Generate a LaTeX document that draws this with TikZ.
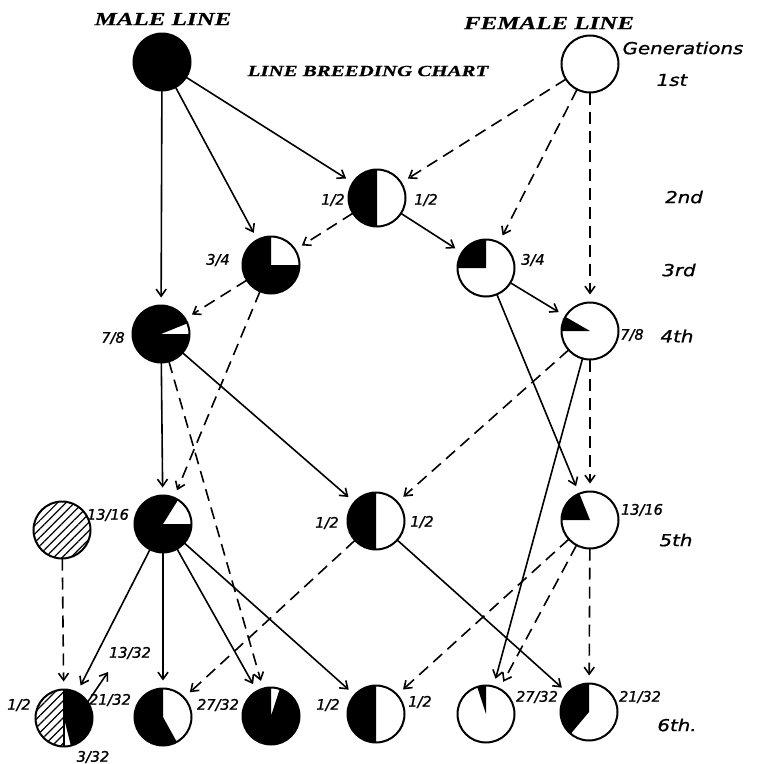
\documentclass[tikz,border=0pt]{standalone}
\usepackage{fontspec}
\usetikzlibrary{arrows.meta,patterns.meta}
\newfontfamily\titlefont[FakeStretch=1.35,FakeBold=0.6]{Liberation Serif}
\newfontfamily\lblfont[FakeStretch=1.2,FakeBold=1]{DejaVu Sans}
\newfontfamily\fracfont[FakeBold=1.2]{DejaVu Sans}
\newcommand\piewedge[4]{\fill[#4] (#1.center) -- ++(#2:28.5pt) arc[start angle=#2, end angle=#3, radius=28.5pt] -- cycle;}
\begin{document}
\begin{tikzpicture}[x=1pt,y=1pt,
  pienode/.style={circle, minimum size=57pt, inner sep=0pt, outer sep=0pt},
  rim/.style={line width=2pt},
  sol/.style={line width=1.6pt, -{Straight Barb[length=7pt,width=10pt,line width=1.6pt]}, shorten >=8pt},
  das/.style={sol, dash pattern=on 12pt off 7pt},
  title/.style={font=\titlefont\bfseries\itshape\fontsize{18.5}{20}\selectfont},
  gen/.style={font=\lblfont\itshape\fontsize{16.5}{18}\selectfont},
  frac/.style={font=\fracfont\itshape\fontsize{14.5}{16}\selectfont, inner sep=0pt}]
\useasboundingbox (0,0) rectangle (756,-764);
% nodes
\node[pienode] (m1) at (162,-62) {};
\node[pienode] (f1) at (590,-64) {};
\node[pienode] (g2) at (377,-198) {};
\node[pienode] (m3) at (271,-265) {};
\node[pienode] (f3) at (486,-268) {};
\node[pienode] (m4) at (161,-334) {};
\node[pienode] (f4) at (590,-331) {};
\node[pienode] (h5) at (62,-530) {};
\node[pienode] (m5) at (163,-524) {};
\node[pienode] (c5) at (376,-521) {};
\node[pienode] (f5) at (590,-520) {};
\node[pienode] (h6) at (64,-718) {};
\node[pienode] (a6) at (163,-717) {};
\node[pienode] (b6) at (271,-716) {};
\node[pienode] (c6) at (376,-714) {};
\node[pienode] (d6) at (486,-714) {};
\node[pienode] (e6) at (589,-712) {};
% fills
\piewedge{m1}{0}{360}{black}
\piewedge{g2}{90}{270}{black}
\piewedge{m3}{90}{360}{black}
\piewedge{f3}{90}{180}{black}
\piewedge{m4}{22}{360}{black}
\piewedge{f4}{150}{180}{black}
\fill[pattern={Lines[angle=45,distance=6pt,line width=1.2pt]}] (h5.center) circle[radius=28.5pt];
\piewedge{m5}{58}{360}{black}
\piewedge{c5}{90}{270}{black}
\piewedge{f5}{112}{180}{black}
\fill[pattern={Lines[angle=45,distance=6pt,line width=1.2pt]}] (h6.center) -- ++(90:28.5pt) arc[start angle=90,end angle=270,radius=28.5pt] -- cycle;
\piewedge{h6}{-76}{90}{black}
\draw[line width=1.2pt] (h6.center) -- ++(90:28.5pt) (h6.center) -- ++(270:28.5pt);
\piewedge{a6}{90}{299}{black}
\piewedge{b6}{90}{432}{black}
\piewedge{c6}{90}{270}{black}
\piewedge{d6}{90}{108}{black}
\piewedge{e6}{90}{230}{black}
\foreach \n in {m1,f1,g2,m3,f3,m4,f4,h5,m5,c5,f5,h6,a6,b6,c6,d6,e6}
  \draw[rim] (\n.center) circle[radius=28.5pt];
% connectors
\draw[sol] (m1) -- (g2);
\draw[sol] (m1) -- (m3);
\draw[sol] (m1) -- (m4);
\draw[das] (f1) -- (g2);
\draw[das] (f1) -- (f3);
\draw[das] (f1) -- (f4);
\draw[das] (g2) -- (m3);
\draw[sol] (g2) -- (f3);
\draw[das] (m3) -- (m4);
\draw[das] (m3) -- (m5);
\draw[sol] (f3) -- (f4);
\draw[sol] (f3) -- (f5);
\draw[sol] (m4) -- (m5);
\draw[sol] (m4) -- (c5);
\draw[das] (m4) -- (b6);
\draw[das] (f4) -- (c5);
\draw[das] (f4) -- (f5);
\draw[sol] (f4) -- (d6);
\draw[das] (h5) -- (h6);
\draw[sol] (m5) -- (h6);
\draw[sol] (m5) -- (a6);
\draw[sol] (m5) -- (b6);
\draw[sol] (m5) -- (c6);
\draw[das] (c5) -- (a6);
\draw[sol] (c5) -- (e6);
\draw[das] (f5) -- (c6);
\draw[das] (f5) -- (d6);
\draw[das] (f5) -- (e6);
\coordinate (s1) at (87,-703);
\coordinate (s2) at (108,-672);
\draw[line width=1.6pt, -{Straight Barb[length=7pt,width=10pt,line width=1.6pt]}] (s1) -- (s2);
% titles
\node[title] (tm) at (163,-19) {MALE LINE};
\node[title] (tf) at (549,-23) {FEMALE LINE};
\node[title, font=\titlefont\bfseries\itshape\fontsize{15.5}{17}\selectfont] (tc) at (368,-71) {LINE BREEDING CHART};
% generations
\node[gen] (gn) at (683,-48) {Generations};
\node[gen] (l1) at (672,-80) {1st};
\node[gen] (l2) at (684,-197) {2nd};
\node[gen] (l3) at (679,-270) {3rd};
\node[gen] (l4) at (677,-336) {4th};
\node[gen] (l5) at (676,-540) {5th};
\node[gen] (l6) at (677,-725) {6th.};
% fractions
\node[frac] (q1) at (333,-200) {1/2};
\node[frac] (q2) at (426,-200) {1/2};
\node[frac] (q3) at (218,-260) {3/4};
\node[frac] (q4) at (533,-260) {3/4};
\node[frac] (q5) at (113,-338) {7/8};
\node[frac] (q6) at (632,-335) {7/8};
\node[frac] (q7) at (108,-515) {13/16};
\node[frac] (q8) at (327,-523) {1/2};
\node[frac] (q9) at (422,-522) {1/2};
\node[frac] (q10) at (642,-510) {13/16};
\node[frac] (q11) at (19,-705) {1/2};
\node[frac] (q12) at (110,-700) {21/32};
\node[frac] (q13) at (130,-653) {13/32};
\node[frac] (q14) at (93,-757) {3/32};
\node[frac] (q15) at (218,-705) {27/32};
\node[frac] (q16) at (328,-705) {1/2};
\node[frac] (q17) at (420,-702) {1/2};
\node[frac] (q18) at (537,-697) {27/32};
\node[frac] (q19) at (640,-697) {21/32};
\end{tikzpicture}
\end{document}
